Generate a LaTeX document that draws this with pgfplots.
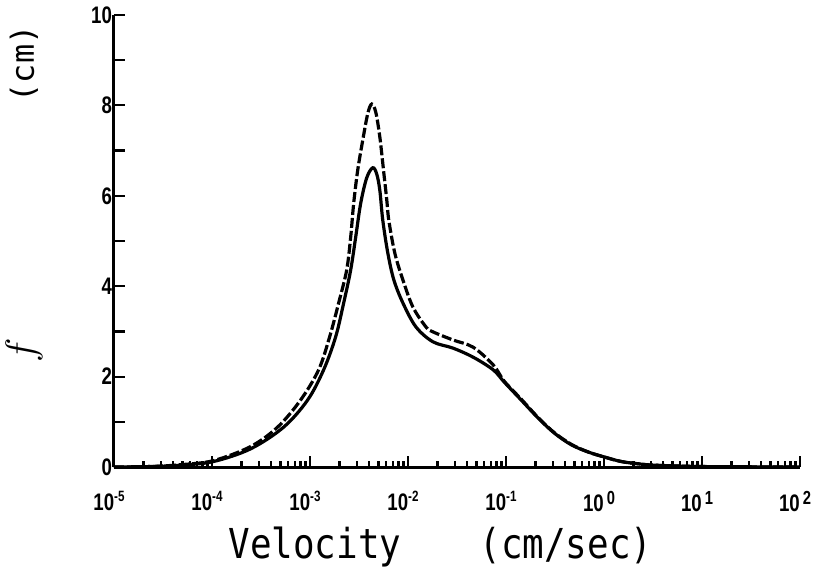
\documentclass[border=0pt]{standalone}
\usepackage{pgfplots}
\pgfplotsset{compat=1.18}
\usepackage{fontspec}
\setmainfont{Liberation Sans}
\newfontfamily\plotterfont{DejaVu Sans Mono}
% condensed bold tick numbers, like the plotter lettering
\newcommand{\sq}[1]{\scalebox{0.78}[1]{\bfseries #1}}
\newcommand{\ex}[1]{\raisebox{0.7ex}{\fontsize{7.5}{8}\selectfont\sq{#1}}}
\newcommand{\exl}[1]{\hspace{1.5bp}\raisebox{0.6ex}{\fontsize{9.5}{10}\selectfont\sq{#1}}}

\begin{document}
\begin{tikzpicture}
\useasboundingbox (-57bp,-52.5bp) rectangle (351.5bp,233.5bp);
\begin{axis}[
    at={(0,0)}, anchor=south west,
    scale only axis,
    width=343bp, height=226bp,
    xmode=log,
    xmin=1e-5, xmax=100,
    ymin=0, ymax=10,
    axis lines=left,
    axis line style={-, line width=1.5bp},
    tick align=inside,
    major tick length=5.5bp,
    minor tick length=3bp,
    tick style={line width=1.1bp, black},
    ytick={0,1,2,3,4,5,6,7,8,9,10},
    yticklabels={\sq{0},,\sq{2},,\sq{4},,\sq{6},,\sq{8},,\sq{10}},
    xtick={1e-5,1e-4,1e-3,1e-2,1e-1,1,10,100},
    xticklabels={\sq{10}\ex{-5},\sq{10}\ex{-4},\sq{10}\ex{-3},\sq{10}\ex{-2},\sq{10}\ex{-1},\sq{10}\exl{0},\sq{10}\exl{1},\sq{10}\exl{2}},
    ticklabel style={font=\fontsize{12}{13}\selectfont},
    xticklabel style={yshift=-8.5bp, xshift=-2.5bp},
    yticklabel style={xshift=2.5bp},
]
% solid curve
\addplot[black, line width=1.6bp, smooth, tension=0.55] coordinates {
  (1e-5,0) (2.336e-5,0.01) (4.74e-5,0.04) (1.031e-4,0.12) (2.466e-4,0.40)
  (5.37e-4,0.88) (9.45e-4,1.48) (1.378e-3,2.15) (1.828e-3,2.88)
  (2.207e-3,3.63) (2.602e-3,4.36) (2.928e-3,5.09) (3.295e-3,5.84)
  (3.795e-3,6.40) (4.37e-3,6.62) (4.80e-3,6.48) (5.16e-3,6.12)
  (5.53e-3,5.46) (6.23e-3,4.73) (7.17e-3,4.14) (8.87e-3,3.63)
  (1.205e-2,3.10) (1.798e-2,2.77) (2.88e-2,2.63) (4.62e-2,2.43)
  (7.40e-2,2.15) (9.58e-2,1.88) (0.1431,1.48) (0.2136,1.08)
  (0.3113,0.75) (0.4648,0.49) (0.694,0.33) (1.012,0.22) (1.510,0.12)
  (2.255,0.07) (3.29,0.04) (9.95,0.01) (100,0)
};
% dashed curve
\addplot[black, line width=1.6bp, smooth, tension=0.55, dash pattern=on 5bp off 1.5bp] coordinates {
  (1e-5,0) (2.336e-5,0.01) (4.74e-5,0.05) (1.031e-4,0.14) (2.466e-4,0.45)
  (4.66e-4,0.88) (8.01e-4,1.48) (1.225e-3,2.15) (1.587e-3,2.88)
  (1.962e-3,3.63) (2.369e-3,4.36) (2.602e-3,5.09) (2.793e-3,5.84)
  (3.07e-3,6.57) (3.454e-3,7.23) (3.886e-3,7.82) (4.27e-3,8.03)
  (4.69e-3,7.85) (5.16e-3,7.30) (5.67e-3,6.50) (6.08e-3,5.90)
  (6.37e-3,5.46) (7.34e-3,4.73) (8.87e-3,4.14) (1.122e-2,3.54)
  (1.524e-2,3.10) (1.798e-2,2.99) (2.88e-2,2.81) (4.62e-2,2.65)
  (7.40e-2,2.26) (9.58e-2,1.90) (0.1431,1.50) (0.2136,1.09)
  (0.3113,0.76) (0.4648,0.50) (0.694,0.33) (1.012,0.22) (1.510,0.12)
  (2.255,0.07) (3.29,0.04) (9.95,0.01) (100,0)
};
\end{axis}
\node[anchor=base, font=\plotterfont\fontsize{18}{20}\selectfont] at (100.5bp,-45.5bp) {\scalebox{1}[1.15]{Velocity}};
\node[anchor=base, font=\plotterfont\fontsize{18}{20}\selectfont] at (226bp,-45.5bp) {\scalebox{1}[1.15]{(cm/sec)}};
\node[rotate=90, font=\plotterfont\fontsize{16}{18}\selectfont] at (-45bp,201.5bp) {(cm)};
\node[rotate=90, font=\fontsize{22}{24}\selectfont] at (-45bp,58.5bp) {$f$};
\end{tikzpicture}
\end{document}
